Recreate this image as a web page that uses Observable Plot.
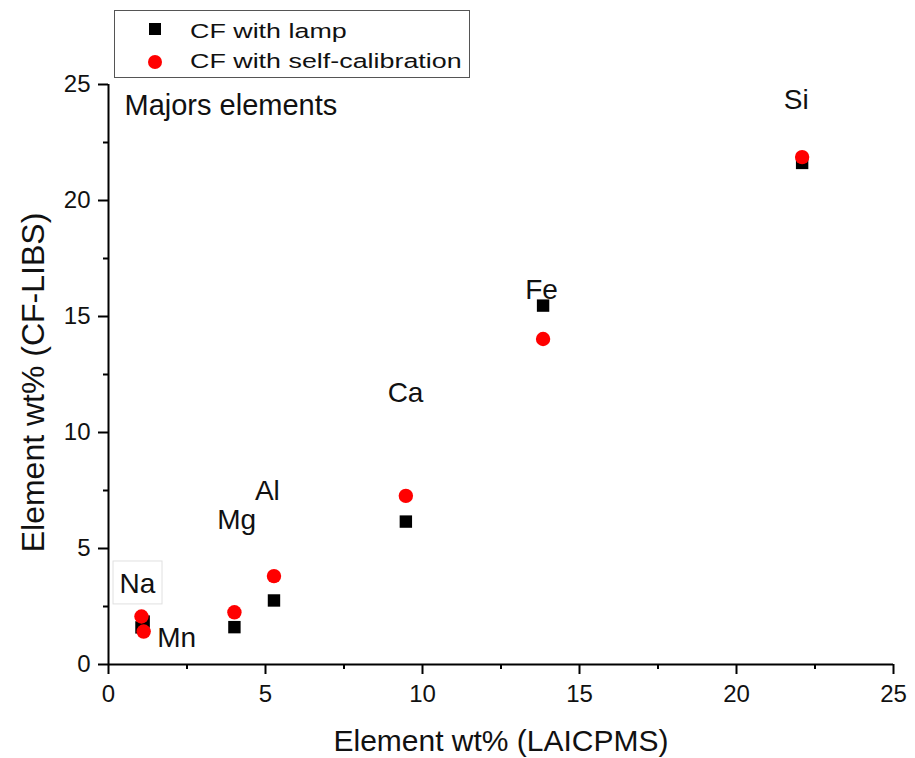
<!DOCTYPE html>
<html>
<head>
<meta charset="utf-8">
<script src="https://cdn.jsdelivr.net/npm/d3@7"></script>
<script src="https://cdn.jsdelivr.net/npm/@observablehq/plot@0.6"></script>
<style>
  html, body { margin: 0; padding: 0; background: #fff; }
  #wrap { position: relative; width: 915px; height: 758px; font-family: "Liberation Sans", Arial, sans-serif; }
  #legend { position: absolute; left: 114px; top: 10px; width: 356px; height: 68px; border: 1px solid #555; background: #fff; box-sizing: border-box; }
  .sym { position: absolute; }
  .lt { position: absolute; left: 75px; font-size: 20.5px; line-height: 24px; color: #111; white-space: nowrap; transform: scaleX(1.31); transform-origin: left center; }
</style>
</head>
<body>
<div id="wrap">
  <div id="chart"></div>
  <div id="legend">
    <span class="sym" style="left:34px;top:12px;width:12px;height:12px;background:#000"></span>
    <span class="lt" style="top:8px">CF with lamp</span>
    <span class="sym" style="left:33px;top:44px;width:14px;height:14px;border-radius:50%;background:#f00"></span>
    <span class="lt" style="top:38px">CF with self-calibration</span>
  </div>
</div>
<script>
const elements = ["Na", "Mn", "Mg", "Al", "Ca", "Fe", "Si"];
const laicpms = [1.05, 1.12, 4.01, 5.27, 9.47, 13.84, 22.09];
const cfLamp = [1.6, 1.85, 1.61, 2.76, 6.16, 15.47, 21.62];
const cfSelf = [2.07, 1.42, 2.25, 3.81, 7.27, 14.03, 21.87];

const labelX = [0.92, 2.17, 4.08, 5.06, 9.46, 13.79, 21.9];
const labelY = [3.49, 1.16, 6.21, 7.46, 11.68, 16.12, 24.35];

const majorTicks = [0, 5, 10, 15, 20, 25];
const minorTicks = [2.5, 7.5, 12.5, 17.5, 22.5];
const naBox = [{x1: 0.16, x2: 1.72, y1: 2.59, y2: 4.44}];

const lampData = elements.map((e, i) => ({el: e, x: laicpms[i], y: cfLamp[i]}));
const selfData = elements.map((e, i) => ({el: e, x: laicpms[i], y: cfSelf[i]}));
const labels = elements.map((e, i) => ({el: e, x: labelX[i], y: labelY[i]}));

const axisStyle = {stroke: "#000", strokeOpacity: 1, strokeWidth: 2, fill: "#111", label: null};

const chart = Plot.plot({
  width: 915,
  height: 758,
  marginLeft: 108,
  marginRight: 22,
  marginTop: 84,
  marginBottom: 94,
  style: {fontFamily: "'Liberation Sans', Arial, sans-serif", color: "#111", background: "#fff"},
  x: {domain: [0, 25]},
  y: {domain: [0, 25]},
  marks: [
    Plot.rect(naBox, {x1: "x1", x2: "x2", y1: "y1", y2: "y2", fill: "white", stroke: "#e0e0e0", strokeWidth: 1}),
    Plot.axisX({...axisStyle, ticks: majorTicks, tickSize: 10, tickPadding: 10, fontSize: 24, tickFormat: d => d}),
    Plot.axisX({...axisStyle, ticks: minorTicks, tickSize: 5, text: null}),
    Plot.axisY({...axisStyle, ticks: majorTicks, tickSize: 10, tickPadding: 8, fontSize: 24, tickFormat: d => d}),
    Plot.axisY({...axisStyle, ticks: minorTicks, tickSize: 5, text: null}),
    Plot.ruleY([0], {strokeWidth: 2, stroke: "#000"}),
    Plot.ruleX([0], {strokeWidth: 2, stroke: "#000"}),
    Plot.dot(lampData, {x: "x", y: "y", symbol: "square", r: 7, fill: "#000", stroke: "none"}),
    Plot.dot(selfData, {x: "x", y: "y", symbol: "circle", r: 7.2, fill: "#ff0000", stroke: "none"}),
    Plot.text(labels, {x: "x", y: "y", text: "el", fontSize: 28, fill: "#111"}),
    Plot.text(["Majors elements"], {x: 0.51, y: 24.1, textAnchor: "start", fontSize: 29, fill: "#111"}),
    Plot.text(["Element wt% (LAICPMS)"], {frameAnchor: "bottom", textAnchor: "middle", lineAnchor: "middle", dy: 77, fontSize: 30, fill: "#111"}),
    Plot.text(["Element wt% (CF-LIBS)"], {frameAnchor: "left", textAnchor: "middle", lineAnchor: "middle", dx: -75, dy: 8, rotate: -90, fontSize: 32, fill: "#111"})
  ]
});
d3.select(chart).selectAll("g[aria-label$='axis tick'] path").attr("stroke-width", 2).attr("stroke", "#000").attr("stroke-opacity", 1);
document.getElementById("chart").appendChild(chart);
</script>
</body>
</html>
